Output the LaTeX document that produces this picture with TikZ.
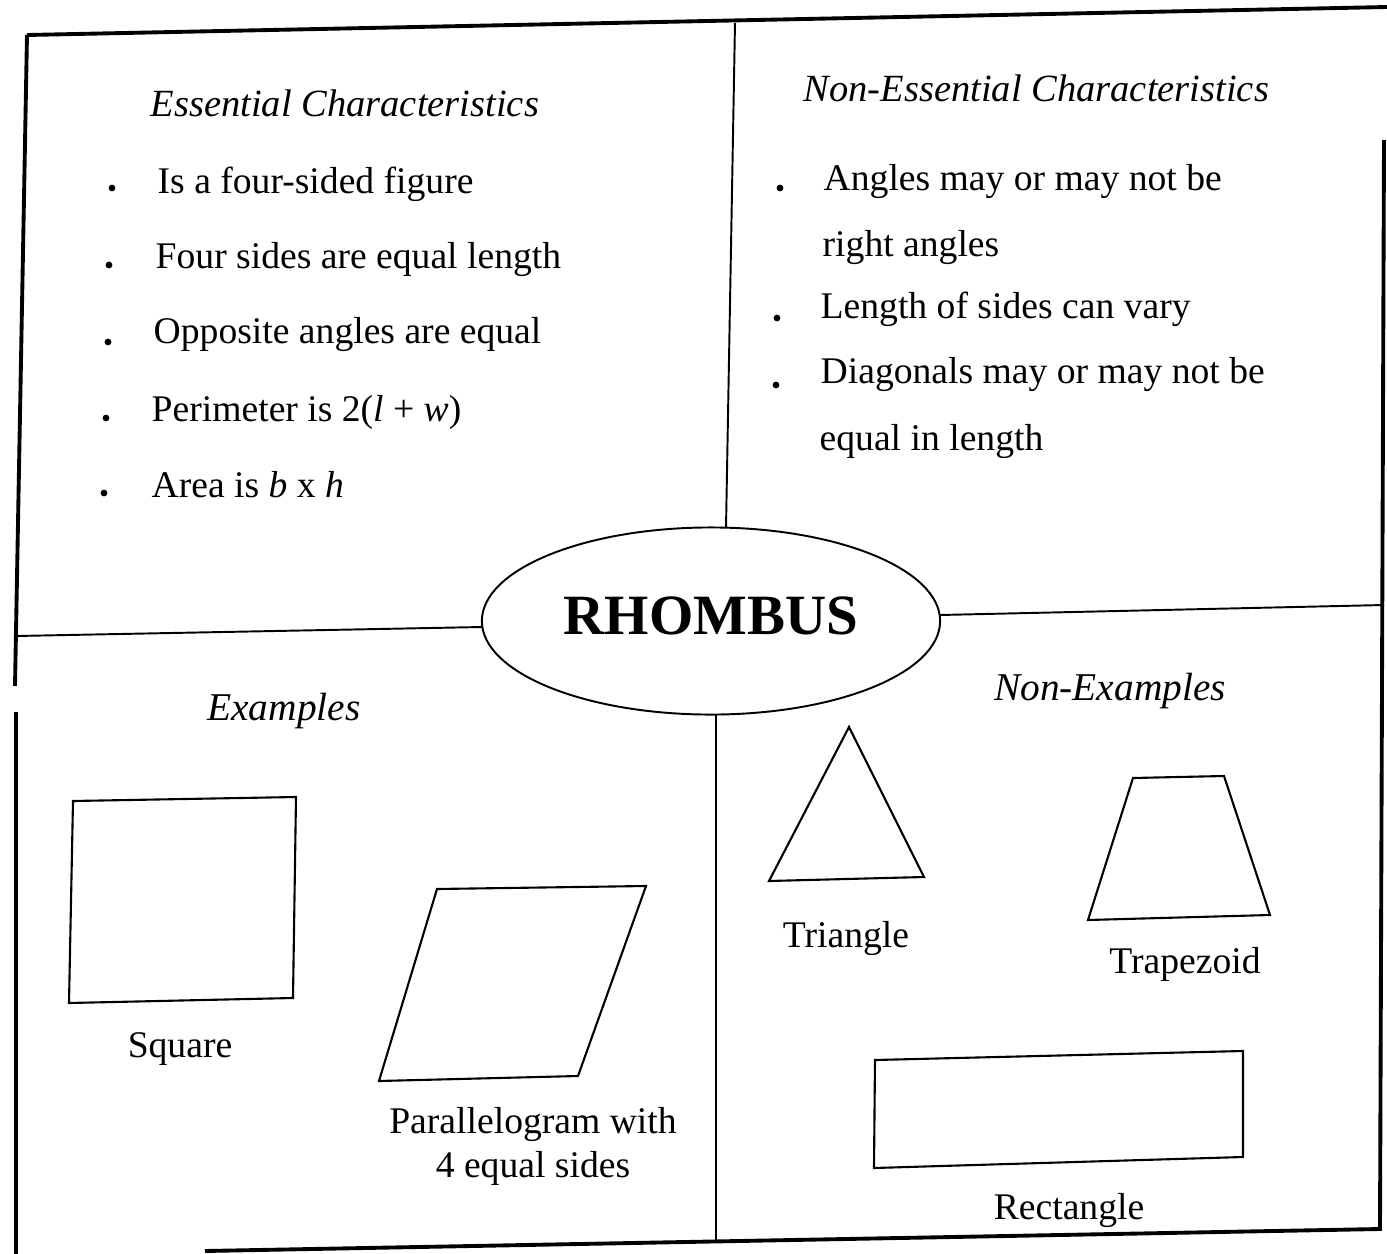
\documentclass[tikz,border=0pt]{standalone}
\usepackage{fontspec}
\setmainfont{Liberation Serif}
\usetikzlibrary{shapes.geometric}
\begin{document}
\begin{tikzpicture}[x=0.01cm,y=-0.01cm,
  txt/.style={inner sep=0pt,anchor=base west,font=\fontsize{10.7}{12}\selectfont},
  ctxt/.style={inner sep=0pt,anchor=base,font=\fontsize{10.7}{12}\selectfont},
  head/.style={inner sep=0pt,anchor=base west,font=\fontsize{10.95}{12}\selectfont\itshape},
  chead/.style={inner sep=0pt,anchor=base,font=\fontsize{11.2}{12}\selectfont\itshape},
  bul/.style={circle,fill=black,inner sep=0pt,minimum size=0.068cm},
  frameline/.style={line width=1.1pt},
  divider/.style={line width=0.55pt},
  fig/.style={draw,line width=0.6pt,line join=miter}]
\useasboundingbox (0,0) rectangle (1387,1254);
\fill[white] (0,0) rectangle (1387,1254);

% central ellipse
\node[ellipse,draw,line width=0.55pt,minimum width=4.58cm,minimum height=1.87cm,inner sep=0pt] (rh) at (711,621) {};
\node[inner sep=0pt,font=\fontsize{16.2}{18}\selectfont\bfseries] (rhtxt) at (711,616) {RHOMBUS};

% outer frame
\coordinate (tl) at (27,35);
\coordinate (tr) at (1387,7);
\coordinate (rt) at (1384,140);
\coordinate (rb) at (1380,1229);
\coordinate (bl) at (205,1251);
\coordinate (lm) at (15,686);
\coordinate (lm2) at (16,712);
\coordinate (lb) at (16,1254);
\draw[frameline] (tl) -- (tr);
\draw[frameline] (rt) -- (rb) -- (bl);
\draw[frameline] (tl) -- (lm);
\draw[frameline] (lm2) -- (lb);

% dividers
\coordinate (ut) at (735,23);
\coordinate (ub) at (726,528);
\coordinate (dt) at (716,714);
\coordinate (db) at (716,1241);
\coordinate (hl) at (16,636);
\coordinate (hle) at (482,627);
\coordinate (hre) at (940,615);
\coordinate (hr) at (1384,605);
\draw[divider] (ut) -- (ub);
\draw[divider] (dt) -- (db);
\draw[divider] (hl) -- (hle);
\draw[divider] (hre) -- (hr);

% Essential characteristics
\node[head] (eh) at (150,116) {Essential Characteristics};
\node[bul] (b1) at (112,188) {};
\node[txt] (e1) at (157,193) {Is a four-sided figure};
\node[bul] (b2) at (109,265) {};
\node[txt] (e2) at (155,268) {Four sides are equal length};
\node[bul] (b3) at (108,342) {};
\node[txt] (e3) at (153,343) {Opposite angles are equal};
\node[bul] (b4) at (106,418) {};
\node[txt] (e4) at (151,421) {Perimeter is 2(\textit{l} + \textit{w})};
\node[bul] (b5) at (104,493) {};
\node[txt] (e5) at (151,497) {Area is \textit{b} x \textit{h}};

% Non-essential characteristics
\node[head] (nh) at (803,101) {Non-Essential Characteristics};
\node[bul] (n1b) at (780,188) {};
\node[txt] (n1) at (823,190) {Angles may or may not be};
\node[txt] (n1c) at (822,256) {right angles};
\node[bul] (n2b) at (777,318) {};
\node[txt] (n2) at (820,318) {Length of sides can vary};
\node[bul] (n3b) at (776,385) {};
\node[txt] (n3) at (820,383) {Diagonals may or may not be};
\node[txt] (n3c) at (819,450) {equal in length};

% Examples
\node[chead] (exh) at (284,720) {Examples};
\draw[fig] (73,801) -- (296,797) -- (293,998) -- (69,1003) -- cycle;
\node[ctxt] (sq) at (180,1057) {Square};
\draw[fig] (437,889) -- (646,886) -- (578,1076) -- (379,1081) -- cycle;
\node[ctxt] (pg1) at (533,1133) {Parallelogram with};
\node[ctxt] (pg2) at (533,1177) {4 equal sides};

% Non-examples
\node[chead] (nxh) at (1110,700) {Non-Examples};
\draw[fig] (849,727) -- (924,877) -- (769,881) -- cycle;
\node[ctxt] (tri) at (846,947) {Triangle};
\draw[fig] (1133,778) -- (1224,776) -- (1270,915) -- (1088,920) -- cycle;
\node[ctxt] (trap) at (1185,973) {Trapezoid};
\draw[fig] (875,1060) -- (1243,1051) -- (1243,1157) -- (874,1168) -- cycle;
\node[ctxt] (rect) at (1069,1219) {Rectangle};
\end{tikzpicture}
\end{document}
